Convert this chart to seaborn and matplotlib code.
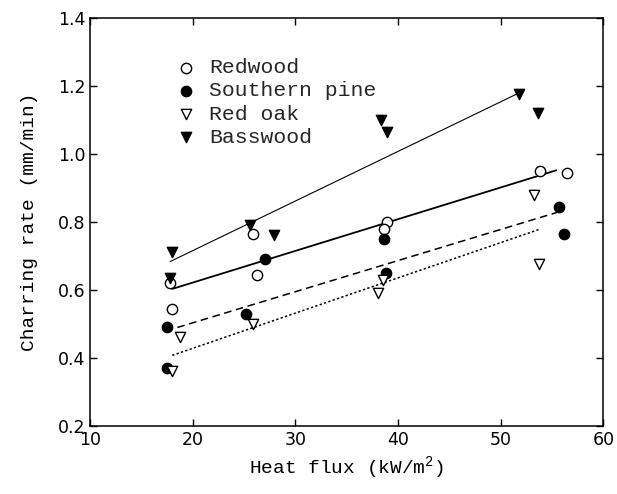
import matplotlib
matplotlib.use("Agg")
import matplotlib.pyplot as plt
import pandas as pd
import seaborn as sns

# charring rate vs heat flux
redwood_x = [17.8, 18.0, 25.9, 26.3, 38.9, 38.6, 53.8, 56.5]
redwood_y = [0.62, 0.545, 0.765, 0.645, 0.80, 0.78, 0.95, 0.945]

pine_x = [17.5, 17.5, 27.0, 25.2, 38.6, 38.8, 55.7, 56.2]
pine_y = [0.49, 0.37, 0.69, 0.53, 0.75, 0.65, 0.845, 0.765]

oak_x = [18.8, 18.0, 25.9, 38.5, 38.0, 53.2, 53.7]
oak_y = [0.46, 0.36, 0.50, 0.63, 0.59, 0.88, 0.675]

bass_x = [18.0, 17.8, 25.6, 27.9, 38.3, 38.9, 51.8, 53.6]
bass_y = [0.71, 0.635, 0.79, 0.76, 1.10, 1.065, 1.175, 1.12]

# x span over which each fitted line is drawn in the figure
fit_span = {
    "Redwood": (18.0, 55.4),
    "Southern pine": (18.5, 55.5),
    "Red oak": (18.0, 53.7),
    "Basswood": (17.8, 51.8),
}

x_ticks = [10, 20, 30, 40, 50, 60]
y_ticks = [0.2, 0.4, 0.6, 0.8, 1.0, 1.2, 1.4]

sns.set_theme(style="ticks")
plt.rcParams['font.family'] = ['Liberation Mono', 'DejaVu Sans']
plt.rcParams['mathtext.fontset'] = 'custom'
plt.rcParams['mathtext.rm'] = 'Liberation Mono'

fig = plt.figure(figsize=(6.17, 4.94), dpi=100)
ax = fig.add_axes([0.146, 0.138, 0.832, 0.826])

series = [
    ("Redwood", redwood_x, redwood_y, "o", "white", dict(ls="-", lw=1.3)),
    ("Southern pine", pine_x, pine_y, "o", "black", dict(ls=(0, (5, 3)), lw=1.1)),
    ("Red oak", oak_x, oak_y, "v", "white", dict(ls=(0, (1.5, 1.5)), lw=1.1)),
    ("Basswood", bass_x, bass_y, "v", "black", dict(ls="-", lw=0.8)),
]

for name, xs, ys, mk, fc, lkw in series:
    df = pd.DataFrame({"flux": xs, "rate": ys})
    # regression line only, spanning the drawn range (truncate=False uses xlim)
    ax.set_xlim(*fit_span[name])
    sns.regplot(data=df, x="flux", y="rate", ax=ax, ci=None, scatter=False,
                truncate=False, line_kws=dict(color="black", **lkw))
    sns.scatterplot(data=df, x="flux", y="rate", ax=ax, marker=mk, s=55,
                    facecolor=fc, edgecolor="black", linewidth=1.0,
                    label=name, zorder=3)

ax.set_xlim(10, 60)
ax.set_ylim(0.2, 1.4)
ax.set_xticks(x_ticks)
ax.set_yticks(y_ticks)
ax.set_yticklabels([f"{v:.1f}" for v in y_ticks])
ax.tick_params(direction="in", top=True, right=True, length=5, width=1,
               labelsize=12.5, colors="black")
for lab in ax.get_xticklabels() + ax.get_yticklabels():
    lab.set_family("DejaVu Sans")
for sp in ax.spines.values():
    sp.set_color("black")
    sp.set_linewidth(1.1)

ax.set_xlabel("Heat flux (kW/m$^2$)", fontsize=14, color="black")
ax.set_ylabel("Charring rate (mm/min)", fontsize=14, color="black")
ax.yaxis.set_label_coords(-0.101, 0.5)

ax.legend(loc="upper left", bbox_to_anchor=(0.146, 0.922), frameon=False,
          fontsize=15.4, handletextpad=0.45, labelspacing=0.2, borderaxespad=0,
          handlelength=1.2)

fig.savefig("out.png", dpi=100)
